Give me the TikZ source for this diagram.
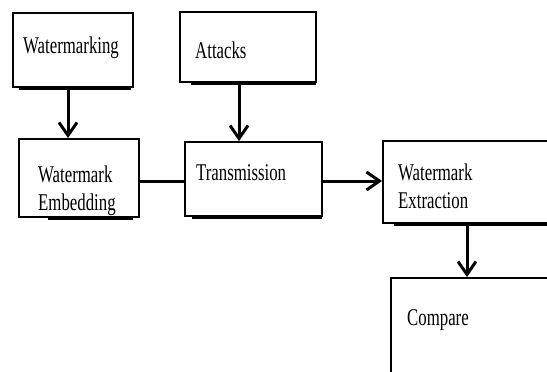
\documentclass[tikz,border=0pt]{standalone}
\usepackage{fontspec}
\setmainfont{Liberation Serif}
\usetikzlibrary{arrows.meta}
\newcommand{\sqz}[1]{\scalebox{0.7}[1]{#1}}
\newcommand{\twol}[2]{\sqz{\begin{tabular}[t]{@{}l@{}}#1\\#2\end{tabular}}}
\tikzset{
  box/.style={draw=black, line width=1.8pt, rectangle, inner sep=0pt},
  lbl/.style={anchor=base west, inner sep=0pt, font=\fontsize{24}{28.5}\selectfont},
  conn/.style={draw=black, line width=3pt},
  arr/.style={conn, -{Straight Barb[length=13pt, width=18pt, line width=3pt]}},
  heavy/.style={draw=black, line width=3.2pt}
}
\begin{document}
\begin{tikzpicture}[x=1pt, y=-1pt]
\useasboundingbox (0,0) rectangle (547,372);
% boxes
\node[box, minimum width=120pt, minimum height=74pt] (wm)  at (73,50) {};
\node[box, minimum width=136pt, minimum height=70pt] (att) at (248,47) {};
\node[box, minimum width=120pt, minimum height=78pt] (emb) at (79,178) {};
\node[box, minimum width=137pt, minimum height=74pt] (tr)  at (253.5,179) {};
\node[box, minimum width=177pt, minimum height=82pt] (ext) at (471.5,182) {};
\node[box, minimum width=169pt, minimum height=112pt] (cmp) at (475.5,334) {};
% heavier bottom edges
\draw[heavy] ([xshift=7pt]wm.south west) -- ([xshift=-3pt]wm.south east);
\draw[heavy] ([xshift=12pt]att.south west) -- ([xshift=-1pt]att.south east);
\draw[heavy] ([xshift=30pt]emb.south west) -- ([xshift=-7pt]emb.south east);
\draw[heavy] ([xshift=8pt]tr.south west) -- ([xshift=-1pt]tr.south east);
\draw[heavy] ([xshift=12pt]ext.south west) -- (ext.south east);
% labels
\node[lbl] (twm)  at (23,53)   {\sqz{Watermarking}};
\node[lbl] (tatt) at (195,58)  {\sqz{Attacks}};
\node[lbl] (temb) at (38,182)  {\twol{Watermark}{Embedding}};
\node[lbl] (ttr)  at (196,180) {\sqz{Transmission}};
\node[lbl] (text) at (398,180) {\twol{Watermark}{Extraction}};
\node[lbl] (tcmp) at (407,325) {\sqz{Compare}};
% connectors
\draw[arr] ([xshift=-5pt]wm.south) -- ([xshift=-5pt]wm.south |- emb.north);
\draw[arr] ([xshift=-9pt]att.south) -- ([xshift=-9pt]att.south |- tr.north);
\draw[conn] ([yshift=-3pt]emb.east) -- ([yshift=-3pt]emb.east -| tr.west);
\draw[arr] ([yshift=-2pt]tr.east) -- ([yshift=-2pt]tr.east -| ext.west);
\draw[arr] ([xshift=-4.5pt]ext.south) -- ([xshift=-4.5pt]ext.south |- cmp.north);
\end{tikzpicture}
\end{document}
